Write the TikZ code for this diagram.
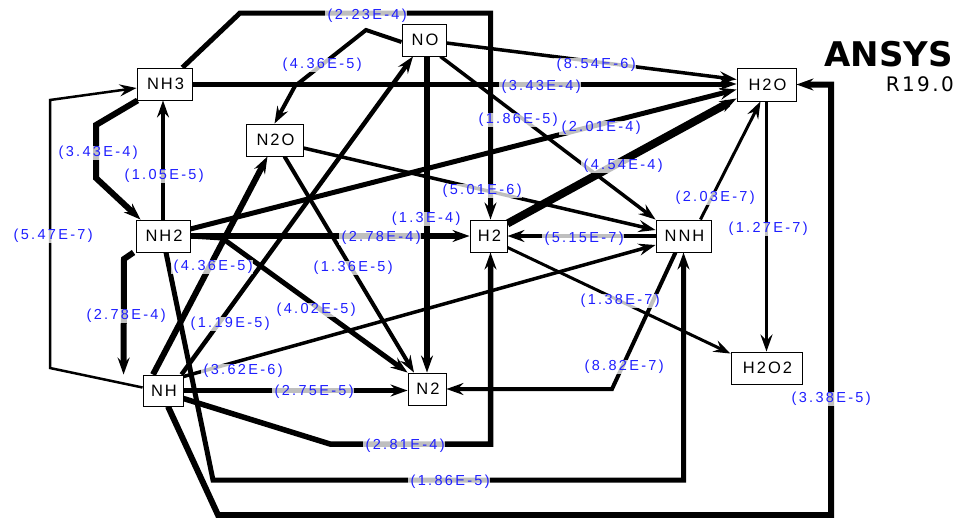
\documentclass[tikz,border=0pt]{standalone}
\usepackage{fontspec}
\setmainfont{Liberation Sans}
\newfontfamily\lblfont[LetterSpace=16]{Liberation Sans}
\newfontfamily\boxfont[LetterSpace=12]{Liberation Sans}
\newfontfamily\logofont{DejaVu Sans}
\newfontfamily\relfont[LetterSpace=12]{DejaVu Sans}
\usetikzlibrary{arrows.meta}
\pgfdeclarelayer{edges}
\pgfsetlayers{edges,main}
\definecolor{lblblue}{RGB}{30,30,255}
\begin{document}
\begin{tikzpicture}[x=1pt,y=-1pt,
  species/.style={draw=black, line width=0.9pt, fill=white, minimum height=32pt, inner sep=0pt,
    font=\boxfont\fontsize{16.5}{18}\selectfont, execute at begin node={\kern2pt}},
  rate/.style={text=lblblue, fill=white, fill opacity=0.75, text opacity=1, inner sep=0.5pt,
    font=\lblfont\fontsize{14.5}{16}\selectfont, execute at begin node={\kern2.3pt}},
  flux/.style={line width=#1pt, -{Stealth[length=17pt,width=12pt,inset=6pt]}},
  logo/.style={inner sep=0pt, anchor=base east}
]
\useasboundingbox (0,0) rectangle (956,517);

% species boxes
\node[species, minimum width=55pt] (NH3) at (164.5,84) {NH3};
\node[species, minimum width=44pt] (NO) at (424,40) {NO};
\node[species, minimum width=57pt] (N2O) at (274.5,140) {N2O};
\node[species, minimum width=59pt, minimum height=33pt] (H2O) at (766.5,84.5) {H2O};
\node[species, minimum width=54pt] (NH2) at (163,236) {NH2};
\node[species, minimum width=37pt] (H2) at (488.5,236) {H2};
\node[species, minimum width=55pt] (NNH) at (683.5,236) {NNH};
\node[species, minimum width=40pt, minimum height=31pt] (NH) at (163,390.5) {NH};
\node[species, minimum width=38pt] (N2) at (427,389) {N2};
\node[species, minimum width=71pt] (H2O2) at (766.5,368) {H2O2};

% logo
\node[logo, font=\logofont\bfseries\fontsize{34}{36}\selectfont] (ansys) at (953,66) {ANSYS};
\node[logo, font=\relfont\fontsize{20}{22}\selectfont] (rel) at (954,91) {R19.0};

\begin{pgfonlayer}{edges}
\fill[white] (0,0) rectangle (956,517);
\draw[flux=5] ([xshift=-10pt]NH3.north east) -- (240,13) -| ([xshift=2pt]H2.north);
\draw[flux=4] ([yshift=-2pt]NO.west) -- (366,30) -- (295,86) -- (N2O.north);
\draw[flux=5] (NH3.east) -- (H2O.west |- NH3.east);
\draw[flux=3.5] ([yshift=-3pt]NO.east) -- ([yshift=5pt]H2O.west);
\draw[flux=3.5] ([xshift=-6pt]NO.south east) -- (NNH.north west);
\draw[flux=6] (N2.north |- NO.south) -- (N2.north);
\draw[flux=4] (NH2.north) -- (NH2.north |- NH3.south);
\draw[flux=6] ([xshift=1pt]NH3.south west) -- (96,125) -- (96,178) -- ([xshift=5pt]NH2.north west);
\draw[flux=2.5] ([yshift=3pt]NH.west) -- (50,368) -- (50,100) -- ([yshift=-4pt]NH3.west);
\draw[flux=6] ([xshift=-10pt]NH.north) -- ([xshift=-7pt]N2O.south);
\draw[flux=4.5] ([xshift=-2pt]NH.north east) -- ([xshift=-11pt]NO.south);
\draw[flux=4] ([xshift=10pt]N2O.south) -- ([xshift=-13pt]N2.north);
\draw[flux=5] (NH2.east) -- (222,238) -- (N2.north west);
\draw[flux=6] (NH2.east) -- (H2.west);
\draw[flux=5] ([yshift=7pt]NH2.east) -- ([yshift=-5pt]H2O.west);
\draw[flux=8] ([yshift=-4pt]H2.north east) -- ([yshift=3pt]H2O.south west);
\draw[flux=3.5] ([yshift=-8pt]N2O.east) -- ([yshift=6pt]NNH.west);
\draw[flux=4] (NNH.west) -- (H2.east);
\draw[flux=3] ([xshift=-11pt]NNH.north east) -- ([xshift=-6pt]H2O.south);
\draw[flux=3] (H2O.south) -- (H2O2.north);
\draw[flux=3] ([yshift=5pt]H2.south east) -- ([yshift=-2pt]H2O2.north west);
\draw[flux=4] ([xshift=-8pt]NNH.south) -- (612,389) -- (N2.east);
\draw[flux=5.5] ([yshift=-8pt]NH.east) -- (330,444) -| ([xshift=2pt]H2.south);
\draw[flux=5] (NH.east) -- (N2.west |- NH.east);
\draw[flux=5] ([xshift=3pt]NH2.south) -- (213,480) -| (NNH.south);
\draw[flux=6] ([xshift=5pt]NH.south) -- (218,515) -- (831,515) |- (H2O.east);
\draw[flux=6] ([xshift=-2pt]NH2.south west) -- (124,259) -- ([xshift=-19pt]NH.north west);
\draw[flux=3.5] ([yshift=-2pt]NH.north east) -- ([yshift=-9pt]NNH.west);
\end{pgfonlayer}

% rate labels
\node[rate] (r1) at (366,16) {(2.23E-4)};
\node[rate] (r2) at (321,65) {(4.36E-5)};
\node[rate] (r3) at (595,65) {(8.54E-6)};
\node[rate] (r4) at (540,87) {(3.43E-4)};
\node[rate] (r5) at (97,153) {(3.43E-4)};
\node[rate] (r6) at (517,120) {(1.86E-5)};
\node[rate] (r7) at (600,128) {(2.01E-4)};
\node[rate] (r8) at (163,176) {(1.05E-5)};
\node[rate] (r9) at (481,191) {(5.01E-6)};
\node[rate] (r10) at (622,166) {(4.54E-4)};
\node[rate] (r11) at (714,198) {(2.03E-7)};
\node[rate] (r12) at (425,219) {(1.3E-4)};
\node[rate] (r13) at (767,229) {(1.27E-7)};
\node[rate] (r14) at (52,236) {(5.47E-7)};
\node[rate] (r15) at (380,238) {(2.78E-4)};
\node[rate] (r16) at (583,239) {(5.15E-7)};
\node[rate] (r17) at (212,267) {(4.36E-5)};
\node[rate] (r18) at (352,268) {(1.36E-5)};
\node[rate] (r19) at (125,316) {(2.78E-4)};
\node[rate] (r20) at (229,324) {(1.19E-5)};
\node[rate] (r21) at (315,310) {(4.02E-5)};
\node[rate] (r22) at (619,301) {(1.38E-7)};
\node[rate] (r23) at (623,367) {(8.82E-7)};
\node[rate] (r24) at (242,371) {(3.62E-6)};
\node[rate] (r25) at (313,392) {(2.75E-5)};
\node[rate] (r26) at (830,399) {(3.38E-5)};
\node[rate] (r27) at (404,446) {(2.81E-4)};
\node[rate] (r28) at (449,482) {(1.86E-5)};
\end{tikzpicture}
\end{document}
